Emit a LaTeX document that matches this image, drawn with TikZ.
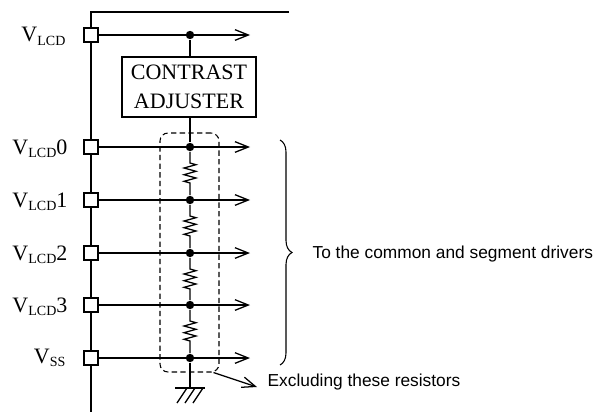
\documentclass[tikz,border=0pt]{standalone}
\usepackage{fontspec}
\setmainfont{Liberation Serif}
\newfontfamily\arialf{Liberation Sans}
\usetikzlibrary{arrows.meta,decorations.pathreplacing}
\begin{document}
\begin{tikzpicture}[x=0.75pt,y=-0.75pt,line width=0.95pt,
  pad/.style={draw,fill=white,minimum size=10.5pt,inner sep=0pt},
  dotn/.style={circle,fill,inner sep=0pt,minimum size=6.3pt},
  outarrow/.style={-{Straight Barb[length=10pt,width=8pt]}},
  vlbl/.style={anchor=base east,inner sep=0pt,font=\fontsize{16.5}{18}\selectfont},
  sans/.style={font=\arialf\fontsize{13}{15}\selectfont}]
\newcommand{\subsc}[1]{\raisebox{-2.3pt}{\fontsize{10.5}{10.5}\selectfont #1}}
\useasboundingbox (0,0) rectangle (598,417);

% main supply line
\coordinate (top) at (91,12);
\coordinate (topr) at (289,12);
\coordinate (bot) at (91,412);
\draw (topr) -- (top) -- (bot);

% rows
\foreach \n/\y in {v/35, a/147, b/200, c/253, d/305, s/358}{
  \node[pad] (p\n) at (91,\y) {};
  \coordinate (e\n) at (250,\y);
  \node[dotn] (d\n) at (190,\y) {};
  \draw[outarrow] (p\n.east) -- (e\n);
}

% labels
\node[vlbl] (lv) at (66,42) {V\subsc{LCD}};
\node[vlbl] (la) at (68,154) {V\subsc{LCD}0};
\node[vlbl] (lb) at (68,207) {V\subsc{LCD}1};
\node[vlbl] (lc) at (68,260) {V\subsc{LCD}2};
\node[vlbl] (ld) at (68,312) {V\subsc{LCD}3};
\node[vlbl] (ls) at (66,363) {V\subsc{SS}};

% contrast adjuster
\node[draw,fill=white,minimum width=100.5pt,minimum height=45pt,align=center,
  inner sep=0pt,font=\fontsize{16.5}{21.75}\selectfont] (adj) at (189,87) {CONTRAST\\ADJUSTER};
\draw (dv) -- (adj.north -| dv);
\draw (adj.south -| da) -- (da);

% resistor ladder
\foreach \u/\w in {a/b, b/c, c/d, d/s}{
  \draw (d\u) -- ++(0,16) -- ++(6,1.7) -- ++(-12,3.3) -- ++(12,3.3) -- ++(-12,3.4)
        -- ++(12,3.3) -- ++(-12,3.3) -- ++(6,1.7) -- (d\w);
}

% ground
\coordinate (gnd) at (190,388);
\draw (ds) -- (gnd);
\draw (175,388) -- (205,388);
\foreach \x in {187,195,203}{ \draw (gnd -| \x,0) -- ++(-10,15); }

% dashed enclosure
\node[draw,line width=0.8pt,dash pattern=on 4pt off 2.5pt,rounded corners=6pt,
  minimum width=44.25pt,minimum height=179.25pt,inner sep=0pt] (excl) at (189.5,252.5) {};
\coordinate (extip) at (257,387);
\draw[outarrow] ([xshift=-4.5pt]excl.south east) -- (extip);
\node[sans,anchor=west,inner sep=0pt] (exlbl) at (267,382) {Excluding these resistors};

% brace
\coordinate (br1) at (280,140);
\coordinate (br2) at (280,365);
\draw[line width=0.8pt,decorate,decoration={brace,amplitude=9pt}] (br1) -- (br2);
\node[sans,anchor=west,inner sep=0pt] (drv) at (312,254) {To the common and segment drivers};
\end{tikzpicture}
\end{document}
